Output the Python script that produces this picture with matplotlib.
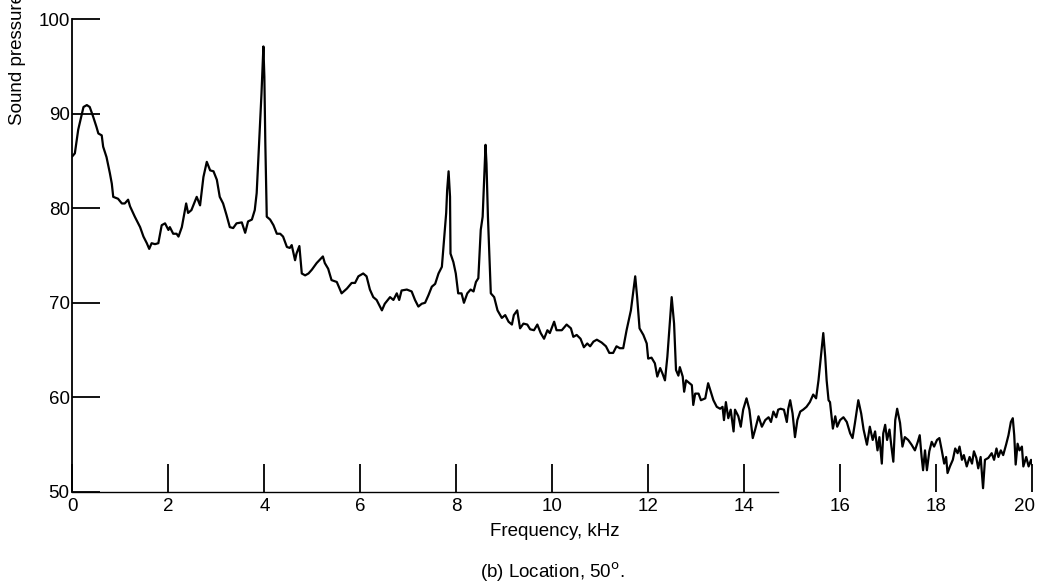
import matplotlib
matplotlib.use("Agg")
import matplotlib.pyplot as plt
import matplotlib.transforms as mtransforms

plt.rcParams['font.family'] = ['Liberation Sans', 'DejaVu Sans']

# spectrum (kHz, dB)
freq = [0.00, 0.05, 0.12, 0.23, 0.30, 0.36, 0.43, 0.50, 0.54, 0.61, 0.64, 0.71, 0.78, 0.82,
        0.85, 0.95, 1.03, 1.09, 1.16, 1.20, 1.30, 1.41, 1.48, 1.55, 1.60, 1.65, 1.72, 1.79,
        1.86, 1.93, 2.00, 2.03, 2.10, 2.17, 2.21, 2.28, 2.37, 2.41, 2.48, 2.59, 2.66, 2.73,
        2.80, 2.87, 2.94, 3.01, 3.07, 3.14, 3.21, 3.28, 3.35,
        3.42, 3.53, 3.60, 3.66, 3.74, 3.80, 3.84, 3.89, 3.94, 3.98, 4.00, 4.02, 4.05, 4.12,
        4.19, 4.26, 4.33, 4.39, 4.47, 4.53, 4.57, 4.64, 4.67, 4.73, 4.78, 4.85, 4.92, 4.99,
        5.09, 5.22, 5.26, 5.33, 5.40, 5.51, 5.61, 5.72, 5.82, 5.89, 5.96, 6.06, 6.13, 6.20,
        6.27, 6.34, 6.45, 6.51, 6.62,
        6.69, 6.76, 6.81, 6.86, 6.97, 7.07, 7.14, 7.21, 7.28, 7.35, 7.42, 7.49, 7.56, 7.63,
        7.70, 7.74, 7.79, 7.81, 7.84, 7.87, 7.88, 7.94, 7.99, 8.04, 8.11, 8.16, 8.23, 8.30,
        8.36, 8.41, 8.46, 8.51, 8.55, 8.58, 8.61, 8.63, 8.66, 8.72, 8.79, 8.86, 8.95, 9.02,
        9.09, 9.16, 9.20, 9.27, 9.33, 9.40, 9.48, 9.54, 9.62, 9.69, 9.76, 9.83, 9.90, 9.95,
        10.04, 10.09, 10.20, 10.30, 10.39, 10.44, 10.51, 10.59, 10.66, 10.73, 10.79, 10.86,
        10.93, 11.03, 11.12, 11.19, 11.27, 11.34, 11.41, 11.48, 11.55, 11.64, 11.73, 11.77,
        11.82, 11.90, 11.97, 12.00, 12.07, 12.14, 12.19, 12.25, 12.30, 12.35, 12.40, 12.44,
        12.49, 12.54, 12.58, 12.63, 12.66, 12.72, 12.75, 12.79, 12.86, 12.91, 12.94, 12.98,
        13.05, 13.10, 13.19, 13.25,
        13.36, 13.43, 13.50, 13.55, 13.58, 13.62, 13.67, 13.72, 13.78, 13.81, 13.88, 13.93,
        13.98, 14.05, 14.11, 14.18, 14.23, 14.30, 14.37, 14.44, 14.51, 14.56, 14.61, 14.67,
        14.71, 14.76, 14.83, 14.89, 14.92, 14.96, 15.01, 15.06, 15.11, 15.17, 15.23, 15.30,
        15.37, 15.44, 15.50, 15.55, 15.60, 15.65, 15.69, 15.72, 15.76, 15.79, 15.85, 15.90,
        15.94, 16.00, 16.07, 16.14, 16.21, 16.26, 16.31, 16.38, 16.44, 16.49, 16.56,
        16.62, 16.68, 16.73, 16.78, 16.82, 16.87, 16.90, 16.94, 16.98, 17.03, 17.07, 17.11,
        17.15, 17.19, 17.25, 17.30, 17.35, 17.42, 17.49, 17.56, 17.62, 17.66, 17.70, 17.73,
        17.77, 17.81, 17.86, 17.91, 17.96, 18.02, 18.07, 18.12, 18.17, 18.21, 18.24, 18.29,
        18.35, 18.40, 18.45, 18.49, 18.54, 18.58, 18.64, 18.70, 18.75, 18.79, 18.84, 18.88,
        18.93, 18.98, 19.02, 19.09, 19.16, 19.21, 19.26, 19.30, 19.35, 19.40, 19.46, 19.51,
        19.56, 19.60, 19.63, 19.66, 19.70, 19.74, 19.79, 19.82, 19.88, 19.93, 19.98, 20.00]

spl = [85.5, 85.8, 88.3, 90.7, 90.9, 90.7, 89.7, 88.6, 87.9, 87.7, 86.5, 85.4, 83.7, 82.6,
       81.2, 81.0, 80.5, 80.5, 80.9, 80.2, 79.1, 78.0, 77.0, 76.3, 75.7, 76.3, 76.2, 76.3,
       78.2, 78.4, 77.7, 78.0, 77.3, 77.3, 77.0, 78.0, 80.5, 79.5, 79.8, 81.2, 80.3, 83.3,
       84.9, 84.0, 83.9, 83.0, 81.2, 80.5, 79.3, 78.0, 77.9,
       78.4, 78.5, 77.4, 78.6, 78.8, 79.8, 81.6, 86.9, 92.1, 97.1, 93.9, 86.9, 79.1, 78.8,
       78.2, 77.3, 77.3, 77.0, 75.9, 75.8, 76.1, 74.5, 75.2, 76.0, 73.1, 72.9, 73.1, 73.5,
       74.2, 74.9, 74.2, 73.6, 72.4, 72.2, 71.0, 71.5, 72.1, 72.1, 72.8, 73.1, 72.8, 71.4,
       70.6, 70.3, 69.2, 69.9, 70.6,
       70.3, 71.0, 70.3, 71.3, 71.4, 71.2, 70.3, 69.6, 69.9, 70.0, 70.8, 71.7, 72.0, 73.1,
       73.8, 76.3, 79.5, 81.9, 83.9, 81.2, 75.2, 74.3, 73.1, 71.0, 71.0, 70.0, 71.0, 71.4,
       71.2, 72.2, 72.6, 77.7, 79.1, 83.0, 86.7, 84.7, 79.1, 71.0, 70.6, 69.2, 68.4, 68.7,
       68.0, 67.7, 68.7, 69.2, 67.3, 67.8, 67.7, 67.2, 67.1, 67.7, 66.8, 66.2, 67.1, 66.8,
       68.0, 67.1, 67.1, 67.7, 67.3, 66.4, 66.6, 66.2, 65.3, 65.7, 65.4, 65.9,
       66.1, 65.8, 65.4, 64.7, 64.7, 65.4, 65.2, 65.2, 67.1, 69.2, 72.8, 70.6,
       67.3, 66.6, 65.7, 64.1, 64.2, 63.6, 62.2, 63.1, 62.5, 61.8, 64.3, 67.1,
       70.6, 67.8, 62.9, 62.3, 63.2, 62.2, 60.6, 61.8, 61.5, 61.3, 59.2, 60.4,
       60.4, 59.7, 59.9, 61.5,
       59.7, 59.0, 58.8, 59.0, 57.6, 59.5, 57.8, 58.7, 56.4, 58.7, 58.0, 56.9,
       58.7, 59.9, 58.7, 55.7, 56.6, 58.0, 56.9, 57.6, 57.9, 57.4, 58.5, 57.9,
       58.7, 58.8, 58.7, 57.4, 58.8, 59.7, 58.3, 55.8, 57.6, 58.5, 58.7, 59.0,
       59.5, 60.3, 59.9, 61.8, 64.3, 66.8, 64.3, 61.8, 59.7, 59.5, 56.7, 58.0,
       56.9, 57.6, 57.9, 57.4, 56.2, 55.7, 57.3, 59.7, 58.3, 56.6, 55.0,
       56.9, 55.5, 56.4, 54.4, 55.8, 53.0, 56.2, 57.1, 55.5, 56.6, 54.8, 53.2,
       57.6, 58.8, 57.3, 54.8, 55.8, 55.5, 55.0, 54.4, 55.3, 56.0, 53.7, 52.3,
       54.4, 52.3, 54.3, 55.3, 54.8, 55.5, 55.7, 54.4, 53.0, 53.7, 52.0, 52.7,
       53.4, 54.6, 54.1, 54.8, 53.4, 53.9, 52.7, 53.7, 53.0, 54.3, 53.6, 52.5,
       53.7, 50.4, 53.4, 53.6, 54.1, 53.4, 54.6, 53.7, 54.4, 53.9, 55.0, 56.0,
       57.4, 57.8, 56.0, 52.9, 55.1, 54.4, 54.8, 52.7, 53.7, 52.7, 53.4, 52.9]

xticks = [0, 2, 4, 6, 8, 10, 12, 14, 16, 18, 20]
yticks = [50, 60, 70, 80, 90, 100]

fig = plt.figure(figsize=(10.38, 5.85), dpi=100)
ax = fig.add_axes([0.0698, 0.159, 0.9244, 0.8085])

ax.plot(freq, spl, color='black', linewidth=1.6)

ax.set_xlim(0, 20)
ax.set_ylim(50, 100)
ax.set_xticks(xticks)
ax.set_yticks(yticks)
ax.tick_params(direction='in', length=20, width=1.3, labelsize=13.5, color='black')
ax.tick_params(axis='x', pad=4)
ax.tick_params(axis='y', pad=2)

# last x label sits a bit left so it stays inside the page
last = ax.get_xticklabels()[-1]
shift = mtransforms.ScaledTranslation(-7 / 100, 0, fig.dpi_scale_trans)
last.set_transform(last.get_transform() + shift)

for side in ['top', 'right']:
    ax.spines[side].set_visible(False)
ax.spines['left'].set_linewidth(1.3)
ax.spines['bottom'].set_linewidth(1.0)
ax.spines['bottom'].set_bounds(0, 14.7)

fig.text(555 / 1038, 1 - 531 / 585, 'Frequency, kHz', ha='center', va='center', fontsize=13.5)
fig.text(552 / 1038, 1 - 572 / 585, '(b) Location, 50$^\\mathrm{o}$.', ha='center',
         va='center', fontsize=13.5)
fig.text(18 / 1038, 1 - 125 / 585, 'Sound pressure level, dB', rotation=90,
         ha='center', va='bottom', fontsize=13.5)

fig.savefig('out.png', dpi=100)
